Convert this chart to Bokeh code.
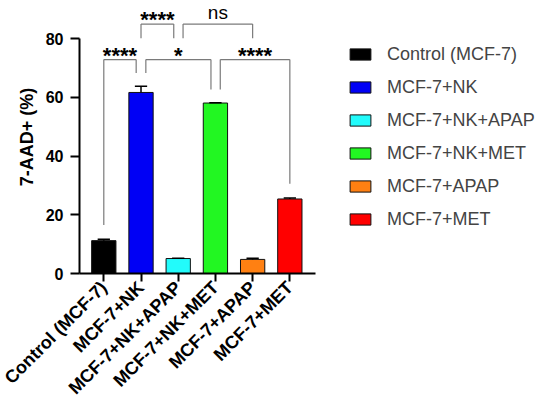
import math
from bokeh.plotting import figure
from bokeh.models import ColumnDataSource, FixedTicker, Legend, LegendItem
from bokeh.embed import file_html
from bokeh.resources import INLINE
from bokeh.core.properties import value

categories = ["Control (MCF-7)", "MCF-7+NK", "MCF-7+NK+APAP", "MCF-7+NK+MET", "MCF-7+APAP", "MCF-7+MET"]
means = [11.2, 61.7, 5.1, 58.1, 4.8, 25.4]
errors = [0.5, 2.1, 0.1, 0.1, 0.4, 0.3]
colors = ["#000000", "#0000f5", "#22fbfb", "#22f722", "#ff8012", "#ff0000"]
y_ticks = [0, 20, 40, 60, 80]

# significance comparisons: (left group, right group, left leg bottom, right leg bottom, bar height, label)
sig_left = [0, 1, 3, 1, 2]
sig_right = [1, 3, 5, 2, 4]
sig_left_off = [0.0, 0.13, 0.13, 0.0, 0.13]
sig_right_off = [-0.13, -0.12, 0.0, -0.12, 0.0]
sig_left_low = [16.5, 68.3, 62.7, 80.2, 80.2]
sig_right_low = [68.3, 62.7, 30.6, 80.2, 80.2]
sig_height = [72.9, 72.9, 72.9, 85.0, 85.0]
sig_label = ["****", "*", "****", "****", "ns"]

FONT = "Liberation Sans"
xs = list(range(len(categories)))

p = figure(width=542, height=408, output_backend="svg", toolbar_location=None,
           x_range=(-0.653, 11.79), y_range=(0, 93.04),
           min_border_left=79, min_border_right=0, min_border_top=0, min_border_bottom=60)
p.outline_line_color = None
p.grid.visible = False
p.background_fill_color = None
p.border_fill_color = "white"

src = ColumnDataSource(dict(x=xs, top=means, color=colors, err_top=[m + e for m, e in zip(means, errors)]))
bars = p.vbar(x="x", top="top", bottom=0, width=0.653, source=src,
              fill_color="color", line_color="#111111", line_width=1)

# error bars (upper only)
p.segment(x0="x", y0="top", x1="x", y1="err_top", source=src, line_color="black", line_width=1.5)
cap_src = ColumnDataSource(dict(x0=[x - 0.165 for x in xs], x1=[x + 0.165 for x in xs],
                                y=[m + e for m, e in zip(means, errors)]))
p.segment(x0="x0", y0="y", x1="x1", y1="y", source=cap_src, line_color="black", line_width=1.5)

# significance brackets
lx = [a + o for a, o in zip(sig_left, sig_left_off)]
rx = [b + o for b, o in zip(sig_right, sig_right_off)]
br = ColumnDataSource(dict(lx=lx, rx=rx, ll=sig_left_low, rl=sig_right_low, h=sig_height))
p.segment(x0="lx", y0="h", x1="rx", y1="h", source=br, line_color="#7a7a7a", line_width=1.2)
p.segment(x0="lx", y0="ll", x1="lx", y1="h", source=br, line_color="#7a7a7a", line_width=1.2)
p.segment(x0="rx", y0="rl", x1="rx", y1="h", source=br, line_color="#7a7a7a", line_width=1.2)

mid = [(a + b) / 2 for a, b in zip(lx, rx)]
star_idx = [i for i, s in enumerate(sig_label) if s != "ns"]
ns_idx = [i for i, s in enumerate(sig_label) if s == "ns"]
star_src = ColumnDataSource(dict(x=[mid[i] for i in star_idx], y=[sig_height[i] + 1.5 for i in star_idx],
                                 t=[sig_label[i] for i in star_idx]))
p.text(x="x", y="y", text="t", source=star_src, text_align="center", text_baseline="alphabetic",
       text_font=value(FONT), text_font_style="bold", text_font_size="22px", text_color="black")
ns_src = ColumnDataSource(dict(x=[mid[i] for i in ns_idx], y=[sig_height[i] + 4.0 for i in ns_idx],
                               t=[sig_label[i] for i in ns_idx]))
p.text(x="x", y="y", text="t", source=ns_src, text_align="center", text_baseline="alphabetic",
       text_font=value(FONT), text_font_size="19px", text_color="black")

# axes
p.yaxis.ticker = FixedTicker(ticks=y_ticks)
p.yaxis.bounds = (0, 80)
p.yaxis.axis_label = "7-AAD+ (%)"
p.yaxis.axis_label_text_font = FONT
p.yaxis.axis_label_text_font_style = "bold"
p.yaxis.axis_label_text_font_size = "18px"
p.yaxis.axis_label_text_color = "black"
p.yaxis.axis_label_standoff = 6
p.yaxis.major_label_text_font = FONT
p.yaxis.major_label_text_font_style = "bold"
p.yaxis.major_label_text_font_size = "16px"
p.yaxis.major_label_standoff = 7

p.xaxis.ticker = FixedTicker(ticks=xs)
p.xaxis.bounds = (-0.653, 5.69)
p.xaxis.major_label_overrides = {i: c for i, c in enumerate(categories)}
p.xaxis.major_label_orientation = math.pi / 4
p.xaxis.major_label_text_font = FONT
p.xaxis.major_label_text_font_style = "bold"
p.xaxis.major_label_text_font_size = "18px"
p.xaxis.major_label_standoff = 3

for ax in (p.xaxis, p.yaxis):
    ax.axis_line_width = 2
    ax.axis_line_color = "black"
    ax.major_tick_line_width = 2
    ax.major_tick_line_color = "black"
    ax.major_tick_in = 0
    ax.minor_tick_line_color = None
    ax.major_label_text_color = "black"
p.xaxis.major_tick_out = 8
p.yaxis.major_tick_out = 9

items = [LegendItem(label=c, renderers=[bars], index=i) for i, c in enumerate(categories)]
legend = Legend(items=items, location=(268, 43.5), glyph_width=26, glyph_height=14,
                label_text_font=FONT, label_text_font_size="18px", label_standoff=14,
                label_height=20, spacing=12, padding=0, margin=0,
                border_line_color=None, background_fill_alpha=0)
p.add_layout(legend)

open("out.html", "w").write(file_html(p, INLINE))
